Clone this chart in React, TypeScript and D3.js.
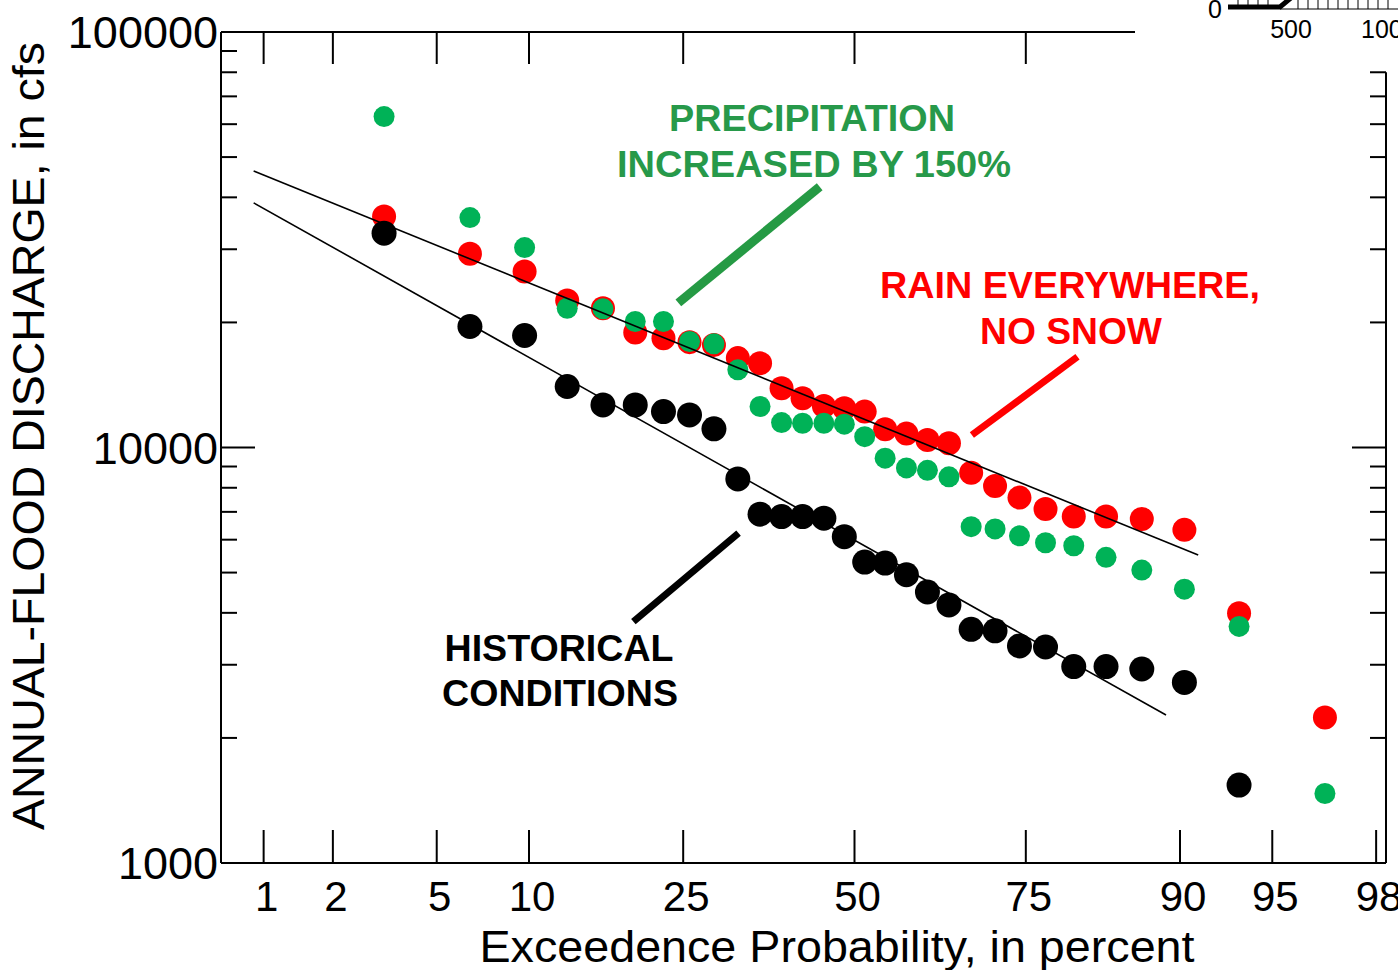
import React, { useEffect } from "react";
import * as d3 from "d3";

// ---------------- DATA ----------------
const exceedancePct = [3.2, 6.5, 9.7, 12.9, 16.1, 19.4, 22.6, 25.8, 29.0, 32.3, 35.5, 38.7, 41.9, 45.2, 48.4, 51.6, 54.8, 58.1, 61.3, 64.5, 67.7, 71.0, 74.2, 77.4, 80.6, 83.9, 87.1, 90.3, 93.5, 96.8];
const historical = [32800, 19550, 18600, 14020, 12660, 12660, 12200, 11980, 11090, 8400, 6910, 6820, 6820, 6760, 6100, 5300, 5270, 4940, 4490, 4180, 3650, 3620, 3330, 3310, 2970, 2970, 2930, 2720, 1540];
const rainNoSnow = [35960, 29250, 26520, 22570, 21640, 18910, 18330, 17930, 17660, 16410, 15950, 13890, 13140, 12590, 12430, 12200, 11070, 10800, 10430, 10240, 8690, 8080, 7575, 7115, 6820, 6820, 6730, 6335, 3990, 2240];
const precip150 = [62590, 35760, 30280, 21640, 21560, 20100, 20100, 17990, 17760, 15380, 12550, 11480, 11440, 11440, 11380, 10620, 9425, 8930, 8810, 8500, 6450, 6370, 6130, 5900, 5800, 5440, 5070, 4560, 3710, 1470];

const upperFitPct = [0.9, 91.2];
const upperFitQ = [46300, 5510];
const lowerFitPct = [0.9, 89.0];
const lowerFitQ = [38800, 2270];

const xTickPct = [1, 2, 5, 10, 25, 50, 75, 90, 95, 98];
const yMajorTicks = [1000, 10000, 100000];
const yTickLabels = ["1000", "10000", "100000"];

// leader lines (percent, cfs)
const greenLeaderPct = [24.4, 44.55];
const greenLeaderQ = [22290, 42420];
const redLeaderPct = [67.8, 81.0];
const redLeaderQ = [10720, 16530];
const blackLeaderPct = [19.2, 32.4];
const blackLeaderQ = [3810, 6220];

// ---------------- HELPERS ----------------
function probit(p: number): number {
  const a = [-3.969683028665376e1, 2.209460984245205e2, -2.759285104469687e2, 1.38357751867269e2, -3.066479806614716e1, 2.506628277459239];
  const b = [-5.447609879822406e1, 1.615858368580409e2, -1.556989798598866e2, 6.680131188771972e1, -1.328068155288572e1];
  const c = [-7.784894002430293e-3, -3.223964580411365e-1, -2.400758277161838, -2.549732539343734, 4.374664141464968, 2.938163982698783];
  const d = [7.784695709041462e-3, 3.224671290700398e-1, 2.445134137142996, 3.754408661907416];
  const pl = 0.02425;
  const ph = 1 - pl;
  if (p < pl) {
    const q = Math.sqrt(-2 * Math.log(p));
    return (((((c[0] * q + c[1]) * q + c[2]) * q + c[3]) * q + c[4]) * q + c[5]) / ((((d[0] * q + d[1]) * q + d[2]) * q + d[3]) * q + 1);
  }
  if (p <= ph) {
    const q = p - 0.5;
    const r = q * q;
    return ((((((a[0] * r + a[1]) * r + a[2]) * r + a[3]) * r + a[4]) * r + a[5]) * q) / (((((b[0] * r + b[1]) * r + b[2]) * r + b[3]) * r + b[4]) * r + 1);
  }
  const q = Math.sqrt(-2 * Math.log(1 - p));
  return -(((((c[0] * q + c[1]) * q + c[2]) * q + c[3]) * q + c[4]) * q + c[5]) / ((((d[0] * q + d[1]) * q + d[2]) * q + d[3]) * q + 1);
}

const W = 1398;
const H = 970;
const LEFT = 221;
const RIGHT = 1386;
const TOP = 32;
const BOTTOM = 863;
const TOP_LINE_END = 1135;
const RIGHT_AXIS_TOP_VALUE = 80000;

const zScale = d3.scaleLinear().domain([probit(0.1), probit(0.9)]).range([529, 1180]);
const x = (pct: number) => zScale(probit(pct / 100));
const y = d3.scaleLog().domain([1000, 100000]).range([BOTTOM, TOP]);

const FONT = "Arial, 'Liberation Sans', Helvetica, sans-serif";
const GREEN_PT = "#00b257";
const GREEN_TXT = "#27994a";
const RED = "#ff0000";

export default function App() {
  useEffect(() => {
    document.body.style.margin = "0";
    document.body.style.overflow = "hidden";
  }, []);

  const minorTicks: number[] = [];
  [1000, 10000].forEach((base) => {
    for (let k = 2; k <= 9; k++) minorTicks.push(base * k);
  });

  const line = d3
    .line<[number, number]>()
    .x((d) => x(d[0]))
    .y((d) => y(d[1]));

  const upperFit = line(upperFitPct.map((p, i) => [p, upperFitQ[i]] as [number, number]));
  const lowerFit = line(lowerFitPct.map((p, i) => [p, lowerFitQ[i]] as [number, number]));
  const greenLeader = line(greenLeaderPct.map((p, i) => [p, greenLeaderQ[i]] as [number, number]));
  const redLeader = line(redLeaderPct.map((p, i) => [p, redLeaderQ[i]] as [number, number]));
  const blackLeader = line(blackLeaderPct.map((p, i) => [p, blackLeaderQ[i]] as [number, number]));

  return (
    <svg width={W} height={H} style={{ position: "absolute", left: 0, top: 0, display: "block", background: "#fff" }} fontFamily={FONT}>
      <rect x={0} y={0} width={W} height={H} fill="#fff" />

      {/* inset scale-bar fragment (top right) */}
      <g stroke="#000" fill="none">
        <path d="M1228,7 L1280,7 L1292,-3" strokeWidth={5} />
        <line x1={1280} y1={9} x2={1398} y2={9} strokeWidth={1.2} />
        {[1238, 1248, 1258, 1268, 1298, 1308, 1318, 1328, 1338, 1348, 1358, 1368, 1378, 1388].map((tx) => (
          <line key={tx} x1={tx} y1={0} x2={tx} y2={9} strokeWidth={1} />
        ))}
      </g>
      <text x={1215} y={18} fontSize={25} textAnchor="middle" fill="#000">0</text>
      <text x={1291} y={38} fontSize={25} textAnchor="middle" fill="#000">500</text>
      <text x={1361} y={38} fontSize={25} textAnchor="start" fill="#000">1000</text>

      {/* frame */}
      <g stroke="#000" strokeWidth={2} fill="none">
        <line x1={LEFT} y1={TOP} x2={LEFT} y2={BOTTOM} />
        <line x1={LEFT} y1={BOTTOM} x2={RIGHT} y2={BOTTOM} />
        <line x1={LEFT} y1={TOP} x2={TOP_LINE_END} y2={TOP} />
        <line x1={RIGHT} y1={y(RIGHT_AXIS_TOP_VALUE)} x2={RIGHT} y2={BOTTOM} />
      </g>

      {/* y ticks */}
      <g stroke="#000" strokeWidth={2}>
        {minorTicks.map((v) => (
          <g key={v}>
            <line x1={LEFT} x2={LEFT + 16} y1={y(v)} y2={y(v)} />
            {v <= RIGHT_AXIS_TOP_VALUE && <line x1={RIGHT} x2={RIGHT - 16} y1={y(v)} y2={y(v)} />}
          </g>
        ))}
        <line x1={LEFT} x2={LEFT + 34} y1={y(10000)} y2={y(10000)} />
        <line x1={RIGHT} x2={RIGHT - 34} y1={y(10000)} y2={y(10000)} />
      </g>
      {yMajorTicks.map((v, i) => (
        <text key={v} x={LEFT - 3} y={y(v)} dy="0.36em" fontSize={45} textAnchor="end" fill="#000">
          {yTickLabels[i]}
        </text>
      ))}

      {/* x ticks */}
      <g stroke="#000" strokeWidth={2}>
        {xTickPct.map((p) => (
          <g key={p}>
            <line x1={x(p)} x2={x(p)} y1={BOTTOM} y2={BOTTOM - 33} />
            {x(p) < TOP_LINE_END && <line x1={x(p)} x2={x(p)} y1={TOP} y2={TOP + 32} />}
          </g>
        ))}
      </g>
      {xTickPct.map((p) => (
        <text key={p} x={x(p) + 3} y={911} fontSize={42} textAnchor="middle" fill="#000">
          {p}
        </text>
      ))}

      {/* axis titles */}
      <text x={837} y={962} fontSize={45} textAnchor="middle" fill="#000" textLength={715} lengthAdjust="spacingAndGlyphs">
        Exceedence Probability, in percent
      </text>
      <text
        transform="translate(44,436) rotate(-90)"
        fontSize={44}
        textAnchor="middle"
        fill="#000"
        textLength={788}
        lengthAdjust="spacingAndGlyphs"
      >
        ANNUAL-FLOOD DISCHARGE, in cfs
      </text>

      {/* points */}
      <g fill={RED}>
        {rainNoSnow.map((q, i) => (
          <circle key={i} cx={x(exceedancePct[i])} cy={y(q)} r={12} />
        ))}
      </g>
      <g fill="#000">
        {historical.map((q, i) => (
          <circle key={i} cx={x(exceedancePct[i])} cy={y(q)} r={12.5} />
        ))}
      </g>
      <g fill={GREEN_PT}>
        {precip150.map((q, i) => (
          <circle key={i} cx={x(exceedancePct[i])} cy={y(q)} r={10.5} />
        ))}
      </g>

      {/* fitted lines */}
      <path d={upperFit || ""} stroke="#000" strokeWidth={1.6} fill="none" />
      <path d={lowerFit || ""} stroke="#000" strokeWidth={1.6} fill="none" />

      {/* annotations */}
      <path d={greenLeader || ""} stroke="#259a44" strokeWidth={9} fill="none" />
      <path d={redLeader || ""} stroke={RED} strokeWidth={7} fill="none" />
      <path d={blackLeader || ""} stroke="#000" strokeWidth={7} fill="none" />

      <g fontWeight="bold" fontSize={36} textAnchor="middle">
        <text x={812} y={131} fill={GREEN_TXT} textLength={286} lengthAdjust="spacingAndGlyphs">PRECIPITATION</text>
        <text x={814} y={177} fill={GREEN_TXT} textLength={394} lengthAdjust="spacingAndGlyphs">INCREASED BY 150%</text>
        <text x={1070} y={298} fill={RED} textLength={380} lengthAdjust="spacingAndGlyphs">RAIN EVERYWHERE,</text>
        <text x={1071} y={344} fill={RED} textLength={182} lengthAdjust="spacingAndGlyphs">NO SNOW</text>
        <text x={559} y={661} fill="#000" textLength={229} lengthAdjust="spacingAndGlyphs">HISTORICAL</text>
        <text x={560} y={706} fill="#000" textLength={236} lengthAdjust="spacingAndGlyphs">CONDITIONS</text>
      </g>
    </svg>
  );
}
